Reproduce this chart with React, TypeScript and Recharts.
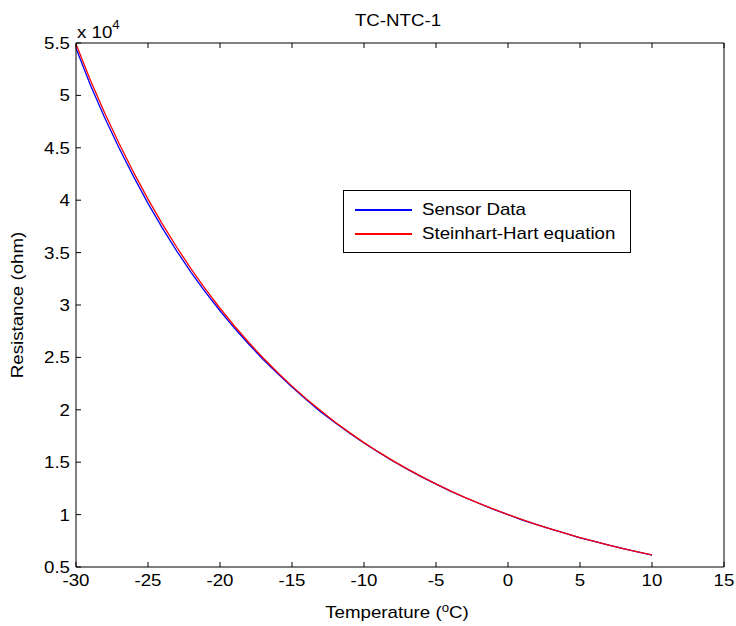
import React from 'react';
import { LineChart, Line, XAxis, YAxis, Legend } from 'recharts';

const temperatures = [
  -30, -29, -28, -27, -26, -25, -24, -23, -22, -21, -20, -19, -18, -17, -16, -15, -14, -13, -12, -11,
  -10, -9, -8, -7, -6, -5, -4, -3, -2, -1, 0, 1, 2, 3, 4, 5, 6, 7, 8, 9, 10
];

// measured resistance (ohm)
const sensorData = [
  54500, 51000, 47850, 44950, 42250, 39700, 37330, 35150, 33100, 31200, 29450, 27800, 26250, 24800,
  23450, 22170, 20950, 19800, 18760, 17770, 16830, 15960, 15110, 14340, 13600, 12910, 12240, 11630,
  11060, 10500, 10000, 9480, 9040, 8610, 8200, 7790, 7450, 7080, 6760, 6450, 6140
];

// Steinhart-Hart fit (ohm)
const steinhartHart = [
  54900, 51450, 48300, 45380, 42650, 40100, 37720, 35510, 33430, 31490, 29690, 28000, 26420, 24940,
  23560, 22260, 21040, 19900, 18820, 17820, 16870, 15980, 15150, 14360, 13620, 12930, 12270, 11650,
  11070, 10520, 10000, 9510, 9050, 8610, 8200, 7810, 7440, 7090, 6760, 6450, 6150
];

const xTicks = [-30, -25, -20, -15, -10, -5, 0, 5, 10, 15];
const yTicks = [5000, 10000, 15000, 20000, 25000, 30000, 35000, 40000, 45000, 50000, 55000];

const FONT = '"Liberation Sans", Arial, sans-serif';
const FS = 17;
const SX = 1.1;

const data = temperatures.map((t, i) => ({ t, sensor: sensorData[i], fit: steinhartHart[i] }));

const fmtY = (v: number) => String(v / 10000);

const BottomTick = (props: any) => {
  const { x, y, payload } = props;
  return (
    <g>
      <line x1={x} x2={x} y1={y} y2={y - 5} stroke="#000" />
      <text
        transform={`translate(${x} ${y + 19}) scale(${SX} 1)`}
        textAnchor="middle"
        fontSize={FS}
        fontFamily={FONT}
        fill="#000"
      >
        {payload.value}
      </text>
    </g>
  );
};

const TopTick = (props: any) => {
  const { x, y } = props;
  return <line x1={x} x2={x} y1={y} y2={y + 5} stroke="#000" />;
};

const LeftTick = (props: any) => {
  const { x, y, payload } = props;
  return (
    <g>
      <line x1={x} x2={x + 5} y1={y} y2={y} stroke="#000" />
      <text
        transform={`translate(${x - 6} ${y + 6}) scale(${SX} 1)`}
        textAnchor="end"
        fontSize={FS}
        fontFamily={FONT}
        fill="#000"
      >
        {fmtY(payload.value)}
      </text>
    </g>
  );
};

const RightTick = (props: any) => {
  const { x, y } = props;
  return <line x1={x} x2={x - 5} y1={y} y2={y} stroke="#000" />;
};

const txt = (extra: React.CSSProperties): React.CSSProperties => ({
  position: 'absolute',
  fontSize: FS,
  whiteSpace: 'nowrap',
  ...extra
});

const renderLegend = () => {
  const items = [
    { name: 'Sensor Data', color: '#0000ff' },
    { name: 'Steinhart-Hart equation', color: '#ff0000' }
  ];
  return (
    <div
      style={{
        border: '1px solid #000',
        background: '#fff',
        padding: '7px 12px 6px 11px',
        fontFamily: FONT,
        fontSize: FS,
        width: 263
      }}
    >
      {items.map((it) => (
        <div key={it.name} style={{ display: 'flex', alignItems: 'center', height: 24 }}>
          <div style={{ width: 57, height: 1.5, background: it.color, marginRight: 10 }} />
          <span style={{ display: 'inline-block', transform: `scaleX(${SX})`, transformOrigin: 'left center' }}>
            {it.name}
          </span>
        </div>
      ))}
    </div>
  );
};

const App = () => {
  return (
    <div style={{ position: 'relative', width: 736, height: 626, background: '#fff', fontFamily: FONT, color: '#000' }}>
      <style>{'body { margin: 0; }'}</style>
      <LineChart width={736} height={626} data={data} margin={{ top: 42, right: 11, bottom: 0, left: 0 }}>
        <XAxis
          dataKey="t"
          type="number"
          domain={[-30, 15]}
          ticks={xTicks}
          height={59}
          axisLine={{ stroke: '#000' }}
          tickLine={false}
          tickSize={0}
          tickMargin={0}
          tick={<BottomTick />}
          interval={0}
        />
        <XAxis
          xAxisId="top"
          orientation="top"
          dataKey="t"
          type="number"
          domain={[-30, 15]}
          ticks={xTicks}
          height={1}
          axisLine={{ stroke: '#000' }}
          tickLine={false}
          tickSize={0}
          tickMargin={0}
          tick={<TopTick />}
          interval={0}
        />
        <YAxis
          type="number"
          domain={[5000, 55000]}
          ticks={yTicks}
          width={76}
          axisLine={{ stroke: '#000' }}
          tickLine={false}
          tickSize={0}
          tickMargin={0}
          tick={<LeftTick />}
          interval={0}
        />
        <YAxis
          yAxisId="right"
          orientation="right"
          type="number"
          domain={[5000, 55000]}
          ticks={yTicks}
          width={1}
          axisLine={{ stroke: '#000' }}
          tickLine={false}
          tickSize={0}
          tickMargin={0}
          tick={<RightTick />}
          interval={0}
        />
        <Legend
          layout="vertical"
          align="center"
          verticalAlign="middle"
          content={renderLegend}
          wrapperStyle={{ left: 343, top: 190, width: 'auto' }}
        />
        <Line
          name="Sensor Data"
          dataKey="sensor"
          stroke="#0000ff"
          strokeWidth={1.3}
          dot={false}
          type="linear"
          isAnimationActive={false}
        />
        <Line
          name="Steinhart-Hart equation"
          dataKey="fit"
          stroke="#ff0000"
          strokeWidth={1.3}
          dot={false}
          type="linear"
          isAnimationActive={false}
        />
      </LineChart>

      <div style={txt({ left: 398, top: 21, transform: `translate(-50%, -50%) scaleX(${SX})` })}>TC-NTC-1</div>
      <div style={txt({ left: 77, top: 19, lineHeight: '17px', transform: `scaleX(${SX})`, transformOrigin: 'left top' })}>
        x 10<sup style={{ fontSize: 12, position: 'relative', top: -2 }}>4</sup>
      </div>
      <div style={txt({ left: 18, top: 305, transform: `translate(-50%, -50%) rotate(-90deg) scaleX(${SX})` })}>
        Resistance (ohm)
      </div>
      <div style={txt({ left: 397, top: 612, transform: `translate(-50%, -50%) scaleX(${SX})` })}>
        Temperature (<sup style={{ fontSize: 12 }}>o</sup>C)
      </div>
    </div>
  );
};

export default App;
